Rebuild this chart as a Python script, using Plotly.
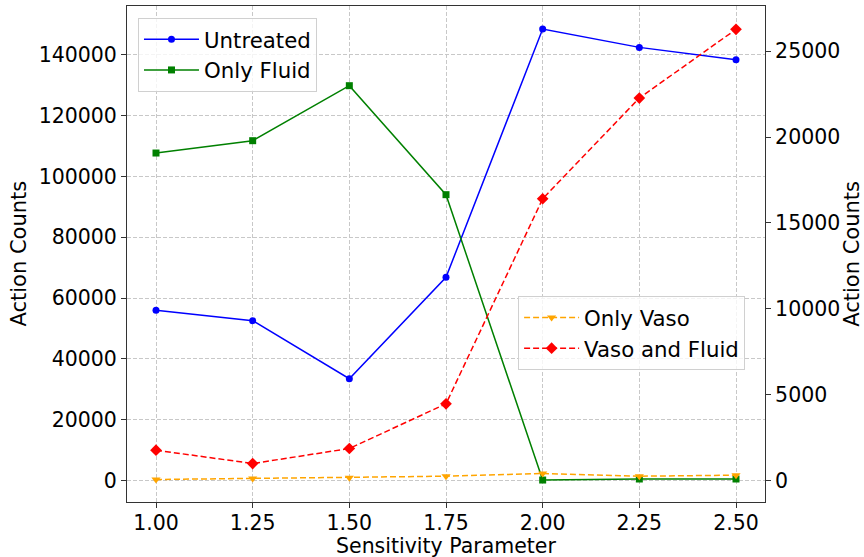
import plotly.graph_objects as go

sensitivity = [1.00, 1.25, 1.50, 1.75, 2.00, 2.25, 2.50]
x_tick_labels = ["1.00", "1.25", "1.50", "1.75", "2.00", "2.25", "2.50"]
untreated = [55950, 52550, 33460, 66810, 148550, 142500, 138450]
only_fluid = [107730, 111790, 129890, 94020, 100, 440, 440]
only_vaso = [60, 117, 155, 252, 408, 252, 310]
vaso_and_fluid = [1767, 990, 1864, 4466, 16408, 22272, 26272]
left_ticks = [0, 20000, 40000, 60000, 80000, 100000, 120000, 140000]
right_ticks = [0, 5000, 10000, 15000, 20000, 25000]

FONT = "DejaVu Sans"
TICK_SIZE = 20.5
TITLE_SIZE = 21

fig = go.Figure()
fig.add_trace(go.Scatter(x=sensitivity, y=untreated, name="Untreated", mode="lines+markers",
                         line=dict(color="blue", width=1.5), marker=dict(symbol="circle", size=7, color="blue"),
                         legend="legend"))
fig.add_trace(go.Scatter(x=sensitivity, y=only_fluid, name="Only Fluid", mode="lines+markers",
                         line=dict(color="green", width=1.5), marker=dict(symbol="square", size=7, color="green"),
                         legend="legend"))
fig.add_trace(go.Scatter(x=sensitivity, y=only_vaso, name="Only Vaso", mode="lines+markers", yaxis="y2",
                         line=dict(color="orange", width=1.5, dash="6px,3px"),
                         marker=dict(symbol="triangle-down", size=8, color="orange"), legend="legend2"))
fig.add_trace(go.Scatter(x=sensitivity, y=vaso_and_fluid, name="Vaso and Fluid", mode="lines+markers", yaxis="y2",
                         line=dict(color="red", width=1.5, dash="6px,3px"),
                         marker=dict(symbol="diamond", size=9, color="red"), legend="legend2"))

axis_common = dict(showline=True, linecolor="#333333", linewidth=1, ticks="outside", ticklen=5,
                   tickcolor="#333333", tickfont=dict(family=FONT, size=TICK_SIZE, color="black"),
                   zeroline=False, automargin=False)

fig.update_layout(
    width=864, height=557,
    margin=dict(l=127, r=99, t=6, b=55),
    paper_bgcolor="white", plot_bgcolor="white",
    font=dict(family=FONT, color="black"),
    xaxis=dict(range=[0.925, 2.575], tickvals=sensitivity, ticktext=x_tick_labels,
               showgrid=True, gridcolor="#c8c8c8", griddash="4px,2px", gridwidth=1, mirror=True,
               ticklabelstandoff=-3, **axis_common),
    yaxis=dict(range=[-7130, 156120], tickvals=left_ticks, ticktext=[str(v) for v in left_ticks],
               showgrid=True, gridcolor="#c8c8c8", griddash="4px,2px", gridwidth=1,
               **axis_common),
    yaxis2=dict(overlaying="y", side="right", range=[-1250, 27631],
                tickvals=right_ticks, ticktext=[str(v) for v in right_ticks], showgrid=False,
                **axis_common),
    legend=dict(x=0.0172, y=0.976, xanchor="left", yanchor="top", bgcolor="rgba(255,255,255,0.8)",
                bordercolor="#d0d0d0", borderwidth=1, font=dict(family=FONT, size=21.3), tracegroupgap=0,
                itemwidth=55),
    legend2=dict(x=0.613, y=0.415, xanchor="left", yanchor="top", bgcolor="rgba(255,255,255,0.8)",
                 bordercolor="#d0d0d0", borderwidth=1, font=dict(family=FONT, size=21.3), tracegroupgap=0,
                 itemwidth=55),
    showlegend=True,
    annotations=[
        dict(text="Action Counts", xref="paper", yref="paper", x=-0.170, y=0.5, xanchor="center",
             yanchor="middle", textangle=-90, showarrow=False, font=dict(family=FONT, size=TITLE_SIZE)),
        dict(text="Action Counts", xref="paper", yref="paper", x=1.136, y=0.5, xanchor="center",
             yanchor="middle", textangle=-90, showarrow=False, font=dict(family=FONT, size=TITLE_SIZE)),
        dict(text="Sensitivity Parameter", xref="paper", yref="paper", x=0.5, y=0, yshift=-31,
             xanchor="center", yanchor="top", showarrow=False, borderpad=0,
             font=dict(family=FONT, size=20.5)),
    ],
)

fig.write_html("out.html", config={"displayModeBar": False},
               post_script="document.body.style.margin='0';document.body.style.padding='0';")
